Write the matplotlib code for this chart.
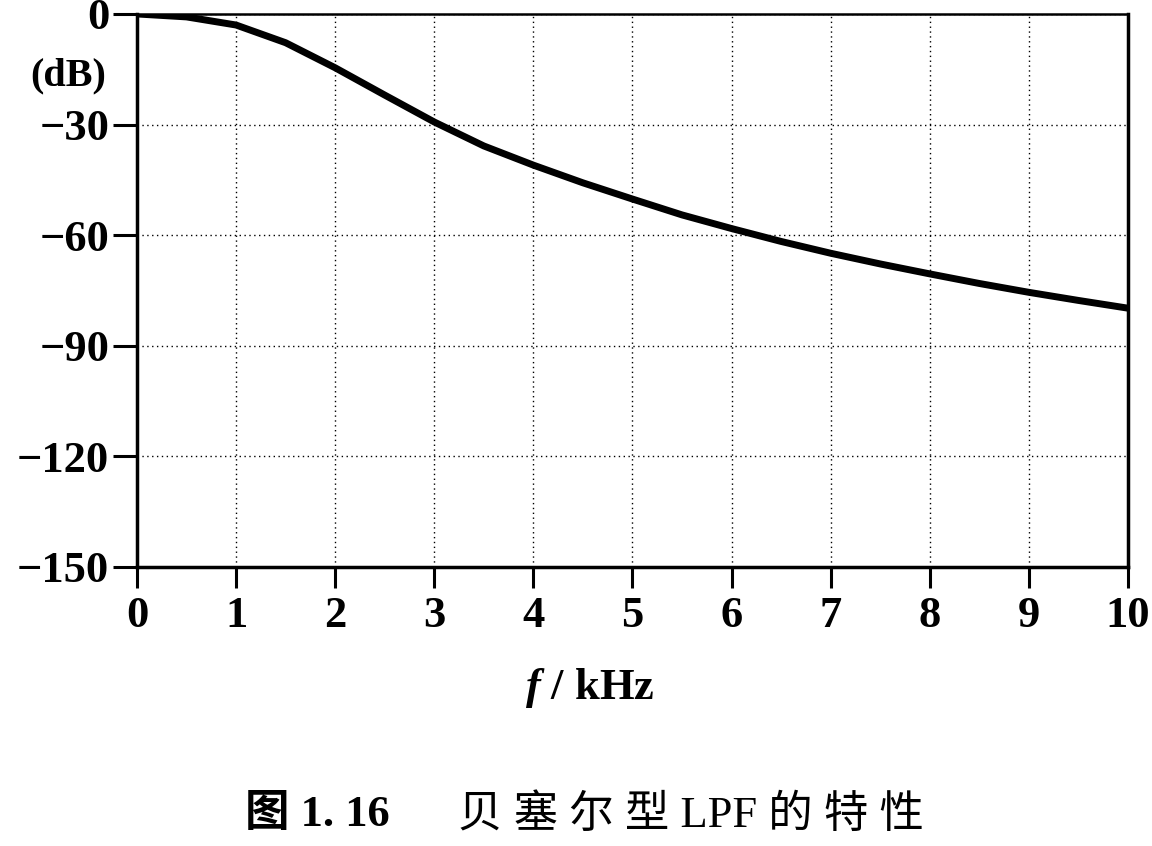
import numpy as np
import matplotlib as mpl
mpl.use('Agg')
from matplotlib import pyplot as plt

# frequency response
freq_khz = [0, 0.5, 1, 1.5, 2, 2.5, 3, 3.5, 4, 4.5, 5, 5.5, 6, 6.5, 7, 7.5, 8, 8.5, 9, 9.5, 10]
gain_db = [0, -0.8, -3.0, -7.8, -14.6, -22.0, -29.3, -35.8, -41.0, -45.8, -50.2,
           -54.5, -58.2, -61.7, -64.9, -67.8, -70.5, -73.1, -75.5, -77.7, -79.8]
xticks = list(range(0, 11))
yticks = [0, -30, -60, -90, -120, -150]
ytick_labels = ['0', '\u221230', '\u221260', '\u221290', '\u2212120', '\u2212150']

serif = ['Liberation Serif', 'Noto Sans CJK SC']
plt.rcParams['font.family'] = serif
plt.rcParams['mathtext.fontset'] = 'custom'
plt.rcParams['mathtext.it'] = 'Liberation Serif:italic:bold'

fig = plt.figure(figsize=(11.52, 8.46), dpi=100)
ax = fig.add_axes([0.1189, 0.3298, 0.8602, 0.6537])

ax.plot(freq_khz, gain_db, color='black', linewidth=5, solid_joinstyle='round', zorder=3)

ax.set_xlim(0, 10)
ax.set_ylim(-150, 0)
ax.set_xticks(xticks)
ax.set_yticks(yticks)
ax.set_yticklabels(ytick_labels)
ax.grid(True, color='black', linestyle=(0, (1, 2.5)), linewidth=1.0)

for lab in ax.get_xticklabels() + ax.get_yticklabels():
    lab.set_fontweight('bold')
    lab.set_fontsize(32)
ax.tick_params(axis='x', direction='out', length=15, width=2.2, pad=6)
ax.tick_params(axis='y', direction='out', length=17, width=2.2, pad=3)

for side in ['left', 'bottom', 'right']:
    ax.spines[side].set_linewidth(2.5)
ax.spines['top'].set_linewidth(1.8)

fig.text(68 / 1152, 1 - 76 / 846, '(dB)', fontsize=29, fontweight='bold',
         ha='center', va='center')

fig.text(590 / 1152, 1 - 688 / 846, '$f$ / kHz', fontsize=32, fontweight='bold',
         ha='center', va='center')

fig.text(245 / 1152, 1 - 815 / 846, '图 1. 16', fontsize=32, fontweight='bold',
         ha='left', va='center')
fig.text(458 / 1152, 1 - 815 / 846, '贝 塞 尔 型 LPF 的 特 性', fontsize=32,
         ha='left', va='center')

plt.savefig('out.png', dpi=100, facecolor='white')
